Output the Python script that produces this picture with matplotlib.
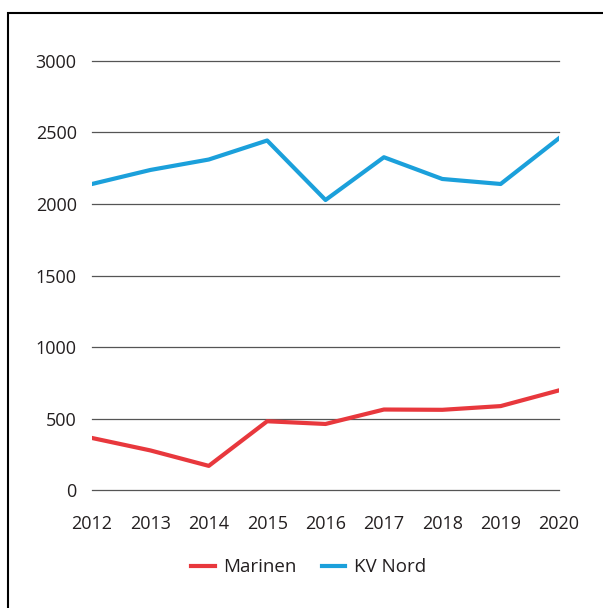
import matplotlib
matplotlib.use('Agg')
import matplotlib.pyplot as plt
from matplotlib.patches import Rectangle

years = [2012, 2013, 2014, 2015, 2016, 2017, 2018, 2019, 2020]
marinen = [364, 277, 169, 481, 462, 563, 561, 587, 697]
kv_nord = [2140, 2238, 2311, 2444, 2028, 2327, 2175, 2140, 2460]
yticks = [0, 500, 1000, 1500, 2000, 2500, 3000]

plt.rcParams['font.family'] = ['Open Sans', 'DejaVu Sans']

fig = plt.figure(figsize=(6.03, 6.08), dpi=100)
ax = fig.add_axes([0.1526, 0.194, 0.7745, 0.7057])

# grid lines
for v in yticks:
    ax.axhline(v, color='#555555', lw=0.9, zorder=1, clip_on=False)

ax.plot(years, marinen, color='#E8383D', lw=3, label='Marinen', zorder=3)
ax.plot(years, kv_nord, color='#1BA0DB', lw=3, label='KV Nord', zorder=3)

ax.set_xlim(2012, 2020)
ax.set_ylim(0, 3000)
ax.set_xticks(years)
ax.set_xticklabels([str(y) for y in years])
ax.set_yticks(yticks)
for s in ax.spines.values():
    s.set_visible(False)
ax.tick_params(axis='both', length=0, labelsize=13, colors='#231F20')
ax.tick_params(axis='y', pad=11)
ax.tick_params(axis='x', pad=18)

leg = fig.legend(loc='center', bbox_to_anchor=(0.512, 0.067), ncol=2, frameon=False,
                 fontsize=13.5, handlelength=1.25, handletextpad=0.45, columnspacing=1.35)
for t in leg.get_texts():
    t.set_color('#231F20')

# outer frame
fig.patches.append(Rectangle((8 / 603, -0.1), 1.2, 1.1 - 13 / 608, transform=fig.transFigure,
                             fill=False, edgecolor='black', lw=1.5))

fig.savefig('out.png', dpi=100)
